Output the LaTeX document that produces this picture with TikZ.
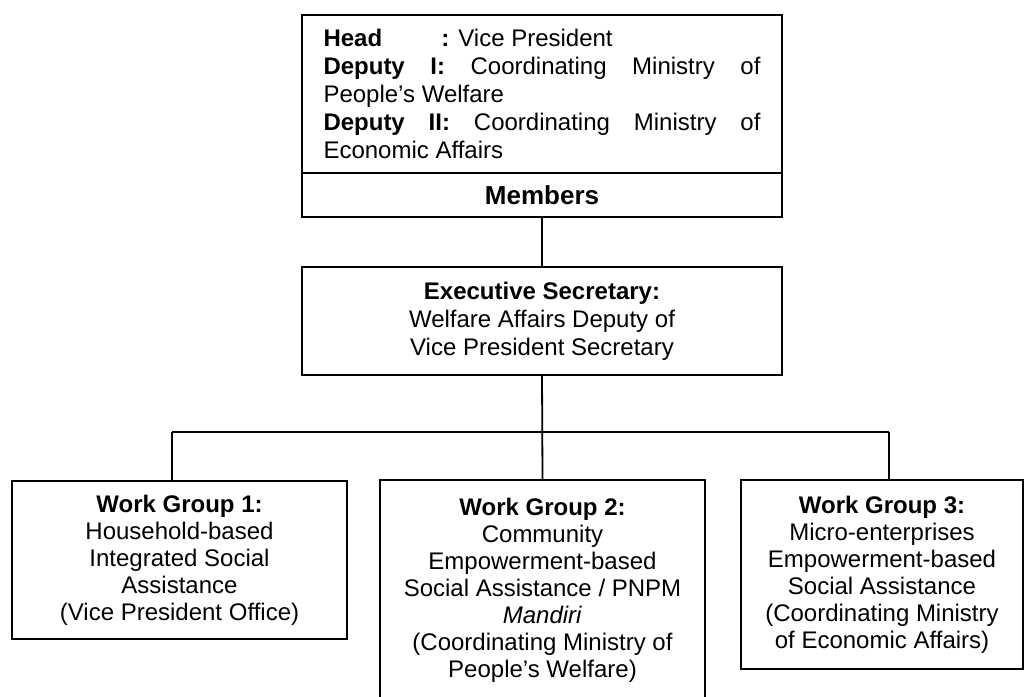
\documentclass[tikz,border=0pt]{standalone}
\usepackage{fontspec}
\setmainfont{Liberation Sans}
\begin{document}
\begin{tikzpicture}[x=1pt,y=-1pt,
  box/.style={draw,line width=1.8pt,rectangle,inner sep=0pt,align=center,
    font=\fontsize{24}{27}\selectfont},
  link/.style={line width=1.8pt},
  execute at begin node={\spaceskip=0pt\xspaceskip=0pt\relax}]
\useasboundingbox (0,0) rectangle (1024,696);
\clip (0,0) rectangle (1024,696);

% steering committee
\node[box,minimum width=480pt,minimum height=158pt,text width=437pt,align=left,
  font=\fontsize{24}{28}\selectfont] (head) at (542,94) {%
  \makebox[118pt][l]{\textbf{Head}}\textbf{:} Vice President\\
  \makebox[437pt][l]{\textbf{Deputy}\hfill\textbf{I:}\hfill Coordinating\hfill Ministry\hfill of}\\
  People’s Welfare\\
  \makebox[437pt][l]{\textbf{Deputy}\hfill\textbf{II:}\hfill Coordinating\hfill Ministry\hfill of}\\
  Economic Affairs};
\node[box,minimum width=480pt,minimum height=44pt,
  font=\fontsize{26}{28}\selectfont\bfseries] (members) at (542,195) {Members};

% executive secretary
\node[box,minimum width=480pt,minimum height=108pt,
  font=\fontsize{24}{28}\selectfont] (exec) at (542,321) {%
  \textbf{Executive Secretary:}\\
  Welfare Affairs Deputy of\\
  Vice President Secretary};

% work groups
\node[box,minimum width=335pt,minimum height=158pt] (wg1) at (179.5,560) {%
  \textbf{Work Group 1:}\\
  Household-based\\
  Integrated Social\\
  Assistance\\
  (Vice President Office)};
\node[box,minimum width=325pt,minimum height=220pt] (wg2) at (542.5,590) {%
  \textbf{Work Group 2:}\\
  Community\\
  Empowerment-based\\
  Social Assistance / PNPM\\
  \textit{Mandiri}\\
  (Coordinating Ministry of\\
  People’s Welfare)};
\node[box,minimum width=282pt,minimum height=189pt] (wg3) at (882,574.5) {%
  \textbf{Work Group 3:}\\
  Micro-enterprises\\
  Empowerment-based\\
  Social Assistance\\
  (Coordinating Ministry\\
  of Economic Affairs)};

% connectors
\coordinate (busL) at (172,432);
\coordinate (busR) at (889,432);
\draw[link] (members.south) -- (exec.north);
\draw[link] (exec.south) -- (wg2.north);
\draw[link] (busL) -- (busR);
\draw[link] (busL) -- (busL |- wg1.north);
\draw[link] (busR) -- (busR |- wg3.north);
\end{tikzpicture}
\end{document}
